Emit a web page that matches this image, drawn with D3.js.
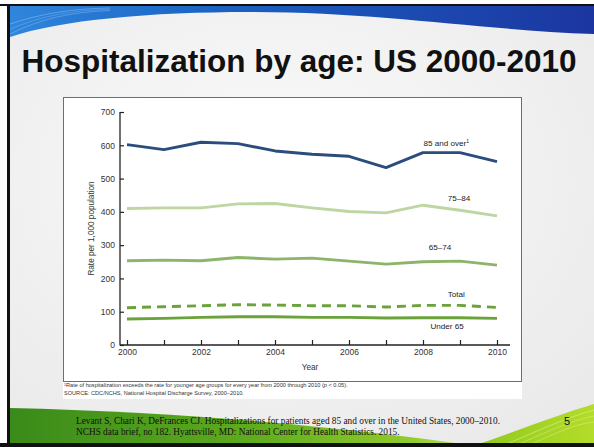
<!DOCTYPE html>
<html>
<head>
<meta charset="utf-8">
<script src="https://cdn.jsdelivr.net/npm/d3@7/dist/d3.min.js"></script>
<style>
  html, body { margin: 0; padding: 0; background: #fff; }
  svg { display: block; }
</style>
</head>
<body>
<div id="slide"></div>
<script>
// values (rate per 1,000 population)
const years = [2000, 2001, 2002, 2003, 2004, 2005, 2006, 2007, 2008, 2009, 2010];
const over85 = [602, 587, 609, 605, 583, 573, 567, 533, 578, 578, 551];
const age75to84 = [410, 412, 412, 424, 425, 412, 401, 397, 420, 405, 388];
const age65to74 = [253, 255, 253, 263, 258, 261, 252, 243, 250, 252, 240];
const total = [112, 115, 118, 121, 120, 118, 118, 114, 119, 119, 113];
const under65 = [78, 80, 83, 85, 85, 83, 83, 81, 82, 82, 80];
const yTicks = [0, 100, 200, 300, 400, 500, 600, 700];
const xLabels = [2000, 2002, 2004, 2006, 2008, 2010];

const series = [
  {name: "85 and over", values: over85, color: "#2b4d7e", dash: null, lx: 2008.63, ly: 597, sup: "1"},
  {name: "75\u201384", values: age75to84, color: "#bdd6a2", dash: null, lx: 2008.97, ly: 432},
  {name: "65\u201374", values: age65to74, color: "#8cb46a", dash: null, lx: 2008.46, ly: 285},
  {name: "Total", values: total, color: "#6aa33a", dash: "9,6", lx: 2008.9, ly: 144},
  {name: "Under 65", values: under65, color: "#6aa33a", dash: null, lx: 2008.65, ly: 48}
];

const W = 594, H = 447;
const svg = d3.select("#slide").append("svg")
  .attr("width", W).attr("height", H);

const defs = svg.append("defs");
const bg = defs.append("radialGradient").attr("id", "bg")
  .attr("cx", "45%").attr("cy", "40%").attr("r", "75%");
bg.append("stop").attr("offset", "0%").attr("stop-color", "#fbfbfb");
bg.append("stop").attr("offset", "100%").attr("stop-color", "#e9e9e9");

const blue = defs.append("linearGradient").attr("id", "blue")
  .attr("x1", "0").attr("x2", "1").attr("y1", "0").attr("y2", "0");
blue.append("stop").attr("offset", "0%").attr("stop-color", "#2f86dc");
blue.append("stop").attr("offset", "35%").attr("stop-color", "#1a63c4");
blue.append("stop").attr("offset", "100%").attr("stop-color", "#1c35a0");

const green = defs.append("linearGradient").attr("id", "green")
  .attr("x1", "0").attr("x2", "1").attr("y1", "0").attr("y2", "0");
green.append("stop").attr("offset", "0%").attr("stop-color", "#3a8a1a");
green.append("stop").attr("offset", "50%").attr("stop-color", "#5eab1e");
green.append("stop").attr("offset", "85%").attr("stop-color", "#93cc2c");
green.append("stop").attr("offset", "100%").attr("stop-color", "#c8e88a");

const lime = defs.append("linearGradient").attr("id", "lime")
  .attr("x1", "0").attr("x2", "1").attr("y1", "0").attr("y2", "0");
lime.append("stop").attr("offset", "0%").attr("stop-color", "#8fc81e");
lime.append("stop").attr("offset", "100%").attr("stop-color", "#b4dc2a");

// slide background and decorations
svg.append("rect").attr("width", W).attr("height", H).attr("fill", "#fff");
svg.append("rect").attr("x", 10).attr("y", 6).attr("width", W - 10).attr("height", H - 10)
  .attr("fill", "url(#bg)");

svg.append("path")
  .attr("d", "M10,6 L594,6 L594,34 C480,30 380,12 250,12 C150,12 60,20 10,37 Z")
  .attr("fill", "url(#blue)");
[[8, 0.35], [13, 0.25], [18, 0.3]].forEach(([o, a]) => {
  svg.append("path")
    .attr("d", `M10,${16 + o} C40,${10 + o / 2} 70,${6 + o / 3} 110,${6 + o / 4}`)
    .attr("fill", "none").attr("stroke", "#bfe0ff").attr("stroke-opacity", a).attr("stroke-width", 1);
});

svg.append("path")
  .attr("d", "M10,408 C180,412 340,426 485,447 L10,447 Z")
  .attr("fill", "url(#green)");
svg.append("path")
  .attr("d", "M470,447 C520,430 560,414 594,404 L594,447 Z")
  .attr("fill", "url(#lime)");
[[0, 0.5], [6, 0.4], [12, 0.4]].forEach(([o, a]) => {
  svg.append("path")
    .attr("d", `M${500 + o * 2},447 C${535 + o},${432 + o / 2} ${565 + o / 2},${418 + o / 2} 594,${410 + o}`)
    .attr("fill", "none").attr("stroke", "#e8f7a0").attr("stroke-opacity", a).attr("stroke-width", 1);
});

// frame
svg.append("rect").attr("x", 0).attr("y", 4).attr("width", W).attr("height", 2).attr("fill", "#111");
svg.append("rect").attr("x", 7).attr("y", 4).attr("width", 3).attr("height", H).attr("fill", "#111");
svg.append("rect").attr("x", 0).attr("y", 443).attr("width", W).attr("height", 4).attr("fill", "#111");

// title
svg.append("text")
  .attr("x", 299).attr("y", 72)
  .attr("text-anchor", "middle")
  .attr("font-family", "Liberation Sans, Arial, sans-serif")
  .attr("font-weight", "bold").attr("font-size", 31.5)
  .attr("fill", "#111")
  .text("Hospitalization by age: US 2000-2010");

// chart panel
svg.append("rect").attr("x", 63).attr("y", 97).attr("width", 459).attr("height", 302).attr("fill", "#fff");
svg.append("rect").attr("x", 63.5).attr("y", 97.5).attr("width", 458).attr("height", 284)
  .attr("fill", "none").attr("stroke", "#6e6e6e").attr("stroke-width", 1);

const x = d3.scaleLinear().domain([2000, 2010]).range([127, 497]);
const y = d3.scaleLinear().domain([0, 700]).range([345, 112]);

const font = "Liberation Sans, Arial, sans-serif";

const yAxis = svg.append("g")
  .attr("transform", "translate(120,0)")
  .call(d3.axisLeft(y).tickValues(yTicks).tickSize(-4).tickPadding(5).tickSizeOuter(0));
yAxis.select(".domain").remove();
yAxis.selectAll("line").attr("stroke", "#222").attr("stroke-width", 1.2);
yAxis.selectAll("text").attr("font-family", font).attr("font-size", 8.5).attr("fill", "#333");

const xAxis = svg.append("g")
  .attr("transform", "translate(0,345)")
  .call(d3.axisBottom(x).tickValues(years).tickSize(-5).tickPadding(4)
    .tickFormat(d => xLabels.includes(d) ? String(d) : ""));
xAxis.select(".domain").remove();
xAxis.selectAll("line").attr("stroke", "#222").attr("stroke-width", 1.2);
xAxis.selectAll("text").attr("font-family", font).attr("font-size", 8.5).attr("fill", "#333");

svg.append("line").attr("x1", 120).attr("x2", 120).attr("y1", y(700)).attr("y2", y(0) + 0.6)
  .attr("stroke", "#222").attr("stroke-width", 1.3);
svg.append("line").attr("x1", 120).attr("x2", 510).attr("y1", y(0)).attr("y2", y(0))
  .attr("stroke", "#222").attr("stroke-width", 1.3);

svg.append("text")
  .attr("transform", `translate(94,${(y(700) + y(0)) / 2}) rotate(-90)`)
  .attr("text-anchor", "middle")
  .attr("font-family", font).attr("font-size", 8.2).attr("fill", "#333")
  .text("Rate per 1,000 population");

svg.append("text")
  .attr("x", 310).attr("y", 370)
  .attr("text-anchor", "middle")
  .attr("font-family", font).attr("font-size", 8.2).attr("fill", "#333")
  .text("Year");

const line = d3.line()
  .x((d, i) => x(years[i]))
  .y(d => y(d));

svg.selectAll(".series")
  .data(series)
  .enter()
  .append("path")
  .attr("class", "series")
  .attr("d", d => line(d.values))
  .attr("fill", "none")
  .attr("stroke", d => d.color)
  .attr("stroke-width", 2.9)
  .attr("stroke-linejoin", "round")
  .attr("stroke-dasharray", d => d.dash);

const labels = svg.selectAll(".lbl")
  .data(series)
  .enter()
  .append("text")
  .attr("class", "lbl")
  .attr("x", d => x(d.lx))
  .attr("y", d => y(d.ly))
  .attr("text-anchor", "middle")
  .attr("font-family", font).attr("font-size", 8.1).attr("fill", "#222")
  .text(d => d.name);
labels.filter(d => d.sup)
  .append("tspan")
  .attr("dy", -3).attr("font-size", 5)
  .text(d => d.sup);

// footnotes
const foot = svg.append("g").attr("font-family", font).attr("font-size", 5.6).attr("fill", "#333");
const f1 = foot.append("text").attr("x", 64).attr("y", 387);
f1.append("tspan").attr("font-size", 3.7).attr("dy", -1.5).text("1");
f1.append("tspan").attr("dy", 1.5).text("Rate of hospitalization exceeds the rate for younger age groups for every year from 2000 through 2010 (");
f1.append("tspan").attr("font-style", "italic").text("p");
f1.append("tspan").text(" < 0.05).");
foot.append("text").attr("x", 64).attr("y", 394.5)
  .text("SOURCE: CDC/NCHS, National Hospital Discharge Survey, 2000\u20132010.");

// citation
const cite = svg.append("g").attr("font-family", "Liberation Serif, Times New Roman, serif")
  .attr("font-size", 9.3).attr("fill", "#111");
cite.append("text").attr("x", 76).attr("y", 424)
  .text("Levant S, Chari K, DeFrances CJ. Hospitalizations for patients aged 85 and over in the United States, 2000\u20132010.");
cite.append("text").attr("x", 76).attr("y", 435)
  .text("NCHS data brief, no 182. Hyattsville, MD: National Center for Health Statistics. 2015.");

svg.append("text").attr("x", 567).attr("y", 425)
  .attr("text-anchor", "middle")
  .attr("font-family", font).attr("font-size", 11).attr("fill", "#111")
  .text("5");
</script>
</body>
</html>
